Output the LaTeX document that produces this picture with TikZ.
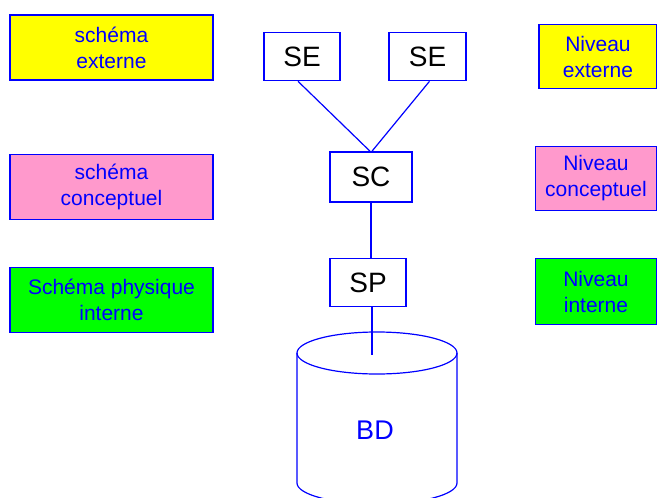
\documentclass[tikz,border=0pt]{standalone}
\usepackage{fontspec}
\setmainfont{Liberation Sans}
\usetikzlibrary{positioning}
\definecolor{bleu}{RGB}{0,0,255}
\definecolor{jaune}{RGB}{255,255,0}
\definecolor{rose}{RGB}{255,153,204}
\definecolor{vert}{RGB}{0,255,0}
\tikzstyle{levelbox} = [rectangle, draw=bleu, line width=1.6pt, text=bleu, align=center, inner sep=0pt, font=\fontsize{21}{26}\selectfont]
\tikzstyle{leftbox} = [levelbox, minimum width=203pt, minimum height=65pt]
\tikzstyle{rightbox} = [levelbox, minimum width=118pt, minimum height=64pt]
\tikzstyle{schema} = [rectangle, draw=bleu, line width=1.6pt, fill=white, inner sep=0pt, minimum height=48pt, font=\fontsize{28}{30}\selectfont]
\tikzstyle{line} = [draw=bleu, line width=1.2pt]

\begin{document}
\begin{tikzpicture}[x=1pt, y=-1pt, node distance=113pt]
	\useasboundingbox (0,0) rectangle (657,498);
	
	% Nodes
	\node (lext) [leftbox, fill=jaune] at (111.5,47.5) {schéma\\externe};
	\node (lconc) [leftbox, fill=rose, below of=lext, yshift=-26.5pt] {schéma\\conceptuel};
	\node (lphys) [leftbox, fill=vert, below of=lconc] {Schéma physique\\interne};
	\node (se1) [schema, minimum width=76pt] at (302,56.5) {SE};
	\node (se2) [schema, minimum width=77pt, right of=se1, xshift=12.5pt] {SE};
	\node (sc) [schema, minimum width=82pt, minimum height=50pt] at (371,177) {SC};
	\node (sp) [schema, minimum width=76pt, below of=sc, xshift=-3pt, yshift=7.5pt] {SP};
	\node (rext) [rightbox, fill=jaune] at (598,56.5) {Niveau\\externe};
	\node (rconc) [rightbox, fill=rose, minimum width=121pt, below of=rext, xshift=-2pt, yshift=-9pt] {Niveau\\conceptuel};
	\node (rint) [rightbox, fill=vert, minimum width=121pt, minimum height=66pt, below of=rconc] {Niveau\\interne};
	
	% Base de donnees
	\draw [line] (297,353) -- (297,483) arc[start angle=180, end angle=0, x radius=80, y radius=21] -- (457,353);
	\draw [line] (377,353) ellipse[x radius=80, y radius=21];
	\node (bd) [text=bleu, font=\fontsize{27}{30}\selectfont] at (375,430) {BD};
	\coordinate (bdtop) at (372,355);
	
	% Lines
	\draw [line] ([xshift=-4pt]se1.south) -- ([xshift=-1pt]sc.north);
	\draw [line] ([xshift=2pt]se2.south) -- ([xshift=1pt]sc.north);
	\draw [line] (sc.south) -- (sc.south |- sp.north);
	\draw [line] (sp.south -| bdtop) -- (bdtop);
	
\end{tikzpicture}
\end{document}
